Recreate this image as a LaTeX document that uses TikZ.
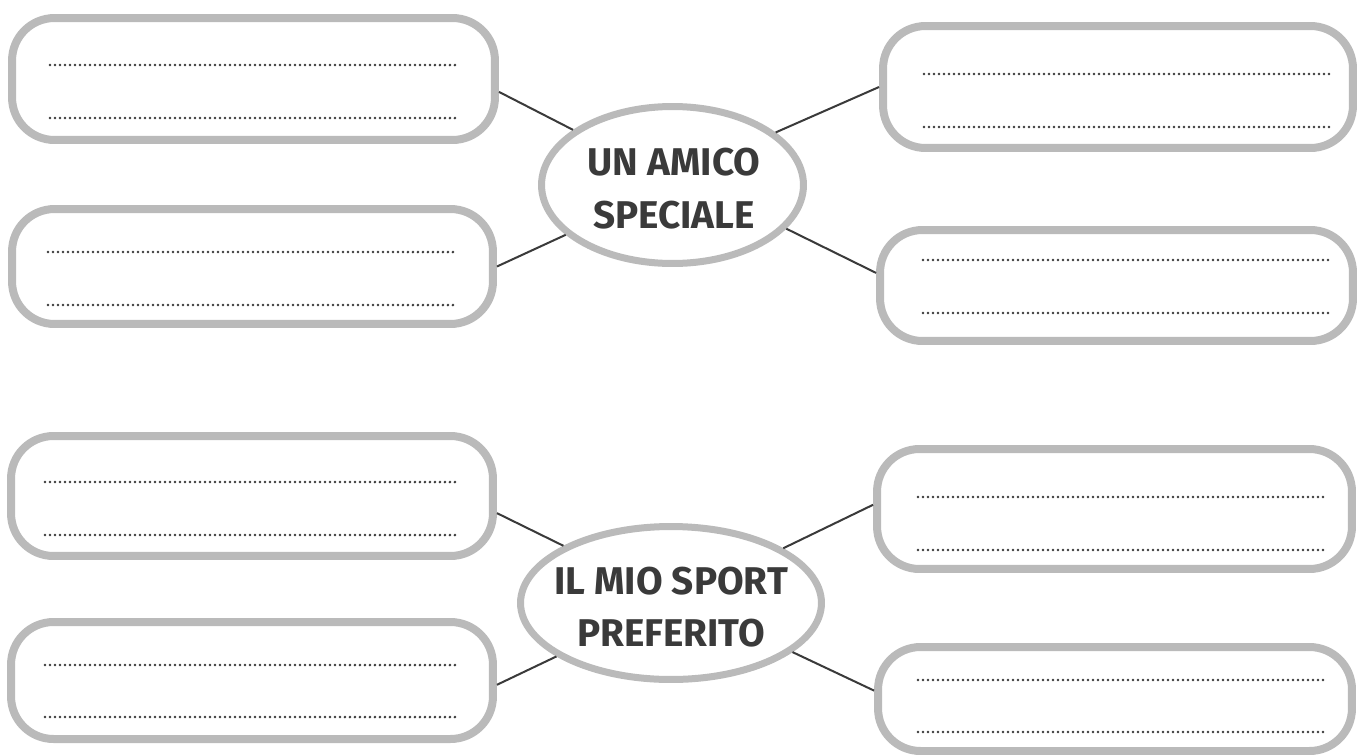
\documentclass[tikz,border=0pt]{standalone}
\usepackage{fontspec}
\newfontfamily\mapfont{Fira Sans}
\usetikzlibrary{shapes.geometric}
\definecolor{rimgray}{RGB}{186,186,186}
\definecolor{inkgray}{RGB}{58,58,58}
\tikzset{
  box/.style={draw=rimgray,line width=0.16cm,rounded corners=0.85cm,inner sep=0pt},
  bubble/.style={ellipse,draw=rimgray,line width=0.14cm,inner sep=0pt},
  title/.style={font=\mapfont\bfseries\fontsize{22}{30}\selectfont,text=inkgray,align=center},
  link/.style={draw=inkgray,line width=0.04cm},
  dots/.style={inkgray,line width=0.058cm,line cap=round,dash pattern=on 0pt off 0.1cm}
}

\begin{document}
\begin{tikzpicture}[x=0.02cm,y=-0.02cm]
  \useasboundingbox[fill=white] (0,0) rectangle (1358,754);
  % first map
  \node[bubble,minimum width=5.24cm,minimum height=3.14cm] (e1) at (672.5,185) {};
  \node[title] (t1) at (674,188.5) {UN AMICO\\SPECIALE};
  \node[box,minimum width=9.66cm,minimum height=2.44cm] (a1) at (253.5,79) {};
  \node[box,minimum width=9.62cm,minimum height=2.30cm] (a2) at (252.5,266.5) {};
  \node[box,minimum width=9.40cm,minimum height=2.44cm] (a3) at (1118,87) {};
  \node[box,minimum width=9.46cm,minimum height=2.22cm] (a4) at (1116.5,285.5) {};
  \draw[link] (a1.-3.7) -- (e1.151);
  \draw[link] (a2.east) -- (e1.205);
  \draw[link] (e1.27) -- (a3.west);
  \draw[link] (e1.-21) -- (a4.177);
  % second map
  \node[bubble,minimum width=6.02cm,minimum height=3.06cm] (e2) at (671,603) {};
  \node[title] (t2) at (671,607) {IL MIO SPORT\\PREFERITO};
  \node[box,minimum width=9.64cm,minimum height=2.40cm] (b1) at (252,496) {};
  \node[box,minimum width=9.64cm,minimum height=2.34cm] (b2) at (252,680.5) {};
  \node[box,minimum width=9.50cm,minimum height=2.40cm] (b3) at (1114.5,509) {};
  \node[box,minimum width=9.48cm,minimum height=2.08cm] (b4) at (1115,699) {};
  \draw[link] (b1.-4.4) -- (e2.152);
  \draw[link] (b2.-1.5) -- (e2.205);
  \draw[link] (e2.26) -- (b3.179);
  \draw[link] (e2.-22) -- (b4.178);
  % writing lines
  \foreach \y in {65,118} \draw[dots] (50,\y) -- (457,\y);
  \foreach \y in {252,305} \draw[dots] (48,\y) -- (455,\y);
  \foreach \y in {74,127} \draw[dots] (924,\y) -- (1330,\y);
  \foreach \y in {260,313} \draw[dots] (923,\y) -- (1329,\y);
  \foreach \y in {482,535} \draw[dots] (45,\y) -- (455,\y);
  \foreach \y in {665,717} \draw[dots] (45,\y) -- (455,\y);
  \foreach \y in {497,550} \draw[dots] (918,\y) -- (1327,\y);
  \foreach \y in {680,732} \draw[dots] (918,\y) -- (1327,\y);
\end{tikzpicture}
\end{document}
